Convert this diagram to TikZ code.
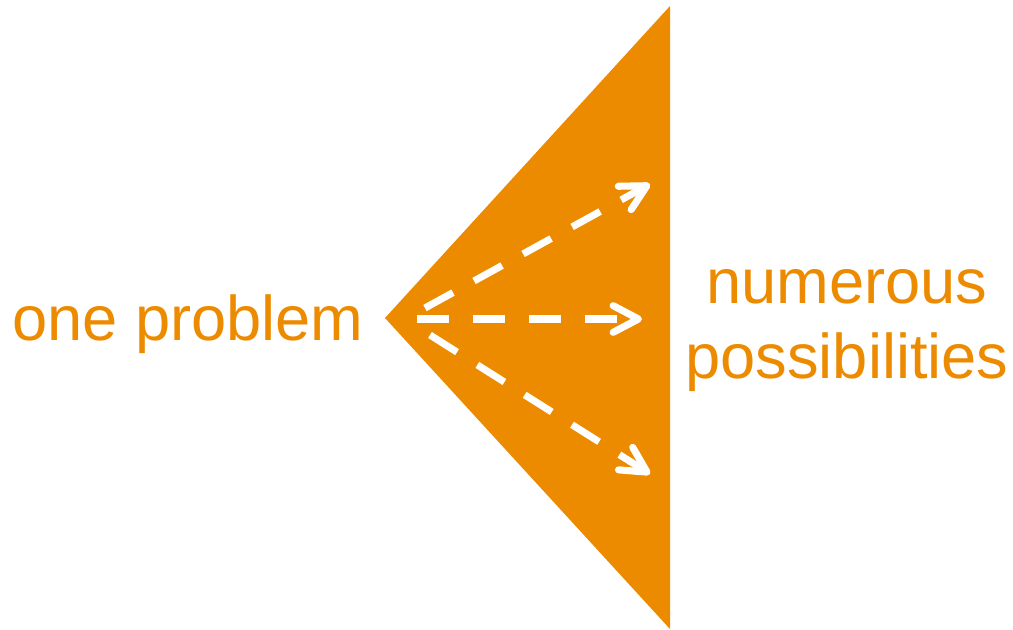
\documentclass[tikz,border=0pt]{standalone}
\usepackage{fontspec}
\setmainfont{Liberation Sans}
\usepackage{xcolor}
\usepackage{tikz}
\usetikzlibrary{arrows.meta,positioning}

\definecolor{probOrange}{RGB}{237,139,0}
\tikzset{
  label text/.style={text=probOrange,font=\fontsize{47.4}{56.25}\selectfont,inner sep=0pt,align=center},
  idea arrow/.style={white,line width=5.3pt,dash pattern=on 24pt off 18pt,
    -{Straight Barb[round,length=19pt,width=20pt]}}
}

\begin{document}
\begin{tikzpicture}[x=0.75pt,y=-0.75pt]
\useasboundingbox (0,0) rectangle (1013,629);

% the cone
\coordinate (apex) at (385,318);
\coordinate (top) at (670,6);
\coordinate (bottom) at (670,629);
\fill[probOrange] (apex) -- (top) -- (bottom) -- cycle;

\coordinate (s1) at (425,308);
\coordinate (s2) at (417,319);
\coordinate (s3) at (430,335);
\coordinate (e1) at (650,184);
\coordinate (e2) at (642,319);
\coordinate (e3) at (650,474);
\draw[idea arrow] (s1) -- (e1);
\draw[idea arrow] (s2) -- (e2);
\draw[idea arrow] (s3) -- (e3);

\node[label text,anchor=base west] (one) at (12,340) {one problem};
\node[label text,anchor=base] (many) at (847,378) {numerous\\possibilities};
\end{tikzpicture}
\end{document}
